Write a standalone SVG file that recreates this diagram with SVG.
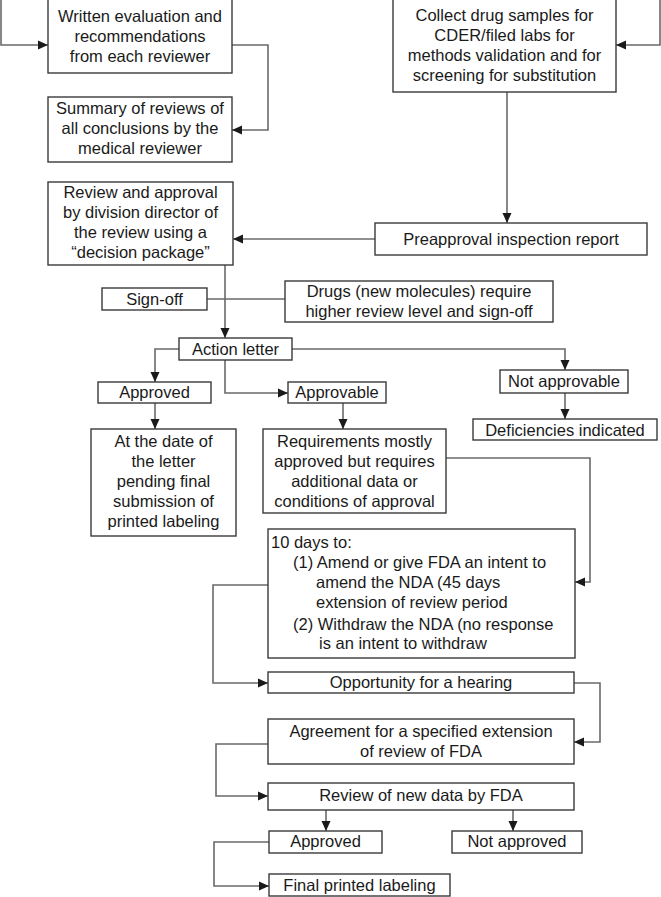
<svg xmlns="http://www.w3.org/2000/svg" width="661" height="897" viewBox="0 0 661 897">
<defs>
<marker id="arr" markerUnits="userSpaceOnUse" markerWidth="10" markerHeight="10" refX="10" refY="5" orient="auto">
<path d="M0,0.5 L10,5 L0,9.5 z" fill="#1a1a1a"/>
</marker>
</defs>
<style>
.box{fill:#fff;stroke:#3a3a3a;stroke-width:1.4}
.t{font-family:"Liberation Sans",Arial,sans-serif;font-size:16.5px;fill:#1a1a1a;text-anchor:middle}
.l{text-anchor:start}
.c{fill:none;stroke:#6a6a6a;stroke-width:1.6}
.ca{fill:none;stroke:#6a6a6a;stroke-width:1.6;marker-end:url(#arr)}
</style>
<rect width="661" height="897" fill="#fff"/>
<g id="connectors">
<path class="ca" d="M1,0 V45 H48"/>
<path class="ca" d="M232,45 H268 V130 H232"/>
<path class="ca" d="M660,0 V45 H616"/>
<path class="ca" d="M507,92 V223"/>
<path class="ca" d="M375,239 H233"/>
<path class="c" d="M207,299 H285"/>
<path class="ca" d="M225,265 V338"/>
<path class="ca" d="M179,349 H155 V382"/>
<path class="ca" d="M225,360 V393 H288"/>
<path class="ca" d="M292,349 H565 V370"/>
<path class="ca" d="M565,393 V419"/>
<path class="ca" d="M155,403 V429"/>
<path class="ca" d="M343,403 V429"/>
<path class="ca" d="M446,458 H590 V582 H575"/>
<path class="ca" d="M268,585 H213 V683 H268"/>
<path class="ca" d="M574,683 H600 V742 H574"/>
<path class="ca" d="M268,744 H216 V796 H268"/>
<path class="ca" d="M326,810 V831"/>
<path class="ca" d="M513,810 V831"/>
<path class="ca" d="M269,842 H214 V886 H269"/>
</g>
<g id="n-written">
<rect class="box" x="48" y="-1" width="184" height="74"/>
<text class="t" x="140" y="22">Written evaluation and</text>
<text class="t" x="140" y="42">recommendations</text>
<text class="t" x="140" y="62">from each reviewer</text>
</g>
<g id="n-summary">
<rect class="box" x="48" y="97" width="184" height="65"/>
<text class="t" x="140" y="114">Summary of reviews of</text>
<text class="t" x="140" y="134">all conclusions by the</text>
<text class="t" x="140" y="154">medical reviewer</text>
</g>
<g id="n-collect">
<rect class="box" x="393" y="-1" width="223" height="93"/>
<text class="t" x="504.5" y="21">Collect drug samples for</text>
<text class="t" x="504.5" y="41">CDER/filed labs for</text>
<text class="t" x="504.5" y="61">methods validation and for</text>
<text class="t" x="504.5" y="81">screening for substitution</text>
</g>
<g id="n-review">
<rect class="box" x="48" y="182" width="185" height="83"/>
<text class="t" x="140.5" y="198">Review and approval</text>
<text class="t" x="140.5" y="218">by division director of</text>
<text class="t" x="140.5" y="238">the review using a</text>
<text class="t" x="140.5" y="258">“decision package”</text>
</g>
<g id="n-preapproval">
<rect class="box" x="375" y="223" width="272" height="32"/>
<text class="t" x="511" y="245">Preapproval inspection report</text>
</g>
<g id="n-signoff">
<rect class="box" x="102" y="288" width="105" height="22"/>
<text class="t" x="154.5" y="305">Sign-off</text>
</g>
<g id="n-drugs">
<rect class="box" x="285" y="281" width="268" height="41"/>
<text class="t" x="419" y="297">Drugs (new molecules) require</text>
<text class="t" x="419" y="317">higher review level and sign-off</text>
</g>
<g id="n-action">
<rect class="box" x="179" y="338" width="113" height="22"/>
<text class="t" x="235.5" y="355">Action letter</text>
</g>
<g id="n-approved1">
<rect class="box" x="98" y="382" width="113" height="21"/>
<text class="t" x="154.5" y="398">Approved</text>
</g>
<g id="n-approvable">
<rect class="box" x="288" y="382" width="98" height="21"/>
<text class="t" x="337" y="398">Approvable</text>
</g>
<g id="n-notapprovable">
<rect class="box" x="500" y="370" width="128" height="23"/>
<text class="t" x="564" y="387">Not approvable</text>
</g>
<g id="n-deficiencies">
<rect class="box" x="473" y="419" width="184" height="21"/>
<text class="t" x="565" y="436">Deficiencies indicated</text>
</g>
<g id="n-atdate">
<rect class="box" x="91" y="429" width="145" height="107"/>
<text class="t" x="163.5" y="447">At the date of</text>
<text class="t" x="163.5" y="467">the letter</text>
<text class="t" x="163.5" y="487">pending final</text>
<text class="t" x="163.5" y="507">submission of</text>
<text class="t" x="163.5" y="527">printed labeling</text>
</g>
<g id="n-requirements">
<rect class="box" x="263" y="429" width="183" height="84"/>
<text class="t" x="354.5" y="447">Requirements mostly</text>
<text class="t" x="354.5" y="467">approved but requires</text>
<text class="t" x="354.5" y="487">additional data or</text>
<text class="t" x="354.5" y="507">conditions of approval</text>
</g>
<g id="n-tendays">
<rect class="box" x="268" y="529" width="307" height="129"/>
<text class="t l" x="271" y="548">10 days to:</text>
<text class="t l" x="293" y="568">(1) Amend or give FDA an intent to</text>
<text class="t l" x="316" y="588">amend the NDA (45 days</text>
<text class="t l" x="316" y="608">extension of review period</text>
<text class="t l" x="293" y="630">(2) Withdraw the NDA (no response</text>
<text class="t l" x="319" y="649">is an intent to withdraw</text>
</g>
<g id="n-opportunity">
<rect class="box" x="268" y="672" width="306" height="21"/>
<text class="t" x="421" y="688">Opportunity for a hearing</text>
</g>
<g id="n-agreement">
<rect class="box" x="268" y="719" width="306" height="45"/>
<text class="t" x="421" y="737">Agreement for a specified extension</text>
<text class="t" x="421" y="757">of review of FDA</text>
</g>
<g id="n-newdata">
<rect class="box" x="268" y="783" width="306" height="27"/>
<text class="t" x="421" y="801">Review of new data by FDA</text>
</g>
<g id="n-approved2">
<rect class="box" x="269" y="831" width="113" height="22"/>
<text class="t" x="325.5" y="847">Approved</text>
</g>
<g id="n-notapproved">
<rect class="box" x="452" y="831" width="130" height="22"/>
<text class="t" x="517" y="847">Not approved</text>
</g>
<g id="n-final">
<rect class="box" x="269" y="874" width="181" height="22"/>
<text class="t" x="359.5" y="891">Final printed labeling</text>
</g>
</svg>
